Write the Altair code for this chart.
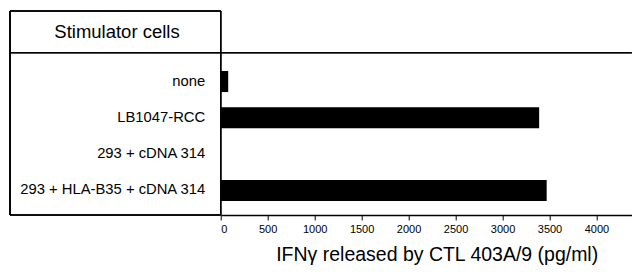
import altair as alt
import pandas as pd

categories = ["none", "LB1047-RCC", "293 + cDNA 314", "293 + HLA-B35 + cDNA 314"]
values = [80, 3390, 0, 3470]
x_ticks = [0, 500, 1000, 1500, 2000, 2500, 3000, 3500, 4000]

df = pd.DataFrame({"cells": categories, "ifn": values})

W = 411.0
H = 162.3
BOX_L = -210.7
BOX_T = -41.7
FONT = "Liberation Sans"

bars = alt.Chart(df).mark_bar(color="black").encode(
    x=alt.X("ifn:Q",
            scale=alt.Scale(domain=[0, 4375], nice=False),
            axis=alt.Axis(values=x_ticks, format="d",
                          title="IFNγ released by CTL 403A/9 (pg/ml)",
                          grid=False, tickSize=5, tickColor="black", domainColor="black",
                          domainWidth=1.3, labelFontSize=11, labelColor="black",
                          labelFont=FONT, labelPadding=4, titleFont=FONT,
                          titleFontSize=19.5, titleFontWeight="normal", titleColor="black",
                          titlePadding=11, titleX=216)),
    y=alt.Y("cells:N", sort=categories,
            scale=alt.Scale(range=[18.3, 148.3], paddingInner=0.42, paddingOuter=0),
            axis=alt.Axis(title=None, ticks=False, domain=False, labelFontSize=14.8,
                          labelColor="black", labelFont=FONT, labelPadding=16,
                          labelLimit=400)),
)

def hline(y, x1, x2):
    return alt.Chart(df).mark_rule(color="black", strokeWidth=1.2).encode(
        x=alt.value(x1), x2=alt.value(x2), y=alt.value(y))

def vline(x, y1, y2):
    return alt.Chart(df).mark_rule(color="black", strokeWidth=1.2).encode(
        x=alt.value(x), y=alt.value(y1), y2=alt.value(y2))

lines = [
    hline(0, BOX_L, W),
    hline(BOX_T, BOX_L, 0),
    hline(H, BOX_L, 0),
    vline(BOX_L, BOX_T, H),
    vline(0, BOX_T, H),
]

header = alt.Chart(pd.DataFrame({"t": ["Stimulator cells"]})).mark_text(
    font=FONT, fontSize=18.5, color="black", align="center", baseline="middle"
).encode(text="t:N", x=alt.value(-103.7), y=alt.value(-20.7))

chart = alt.layer(bars, *lines, header).properties(
    width=W, height=H,
    autosize=alt.AutoSizeParams(type="none"),
    padding={"left": 212.7, "top": 44.7, "right": 0, "bottom": 50},
).configure_view(stroke=None)

chart.save("out.html", embed_options={"renderer": "svg", "actions": False})
